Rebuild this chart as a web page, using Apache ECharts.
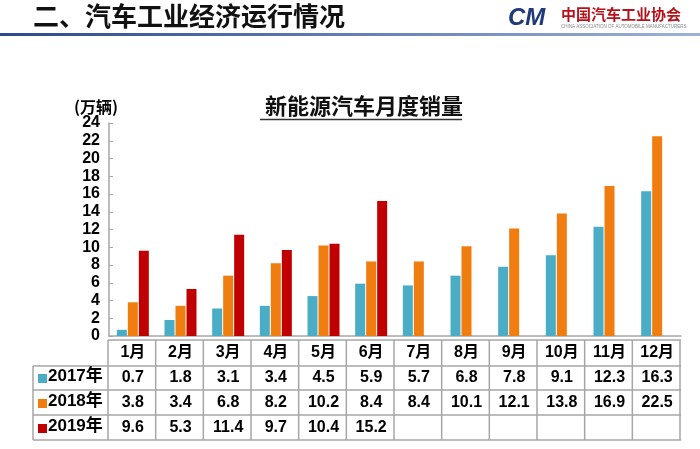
<!DOCTYPE html>
<html><head><meta charset="utf-8">
<script src="https://cdn.jsdelivr.net/npm/echarts@6/dist/echarts.min.js"></script>
<style>html,body{margin:0;padding:0;background:#fff}#c{width:700px;height:449px}</style>
</head><body><div id="c"></div>
<script>
const months = ['1月','2月','3月','4月','5月','6月','7月','8月','9月','10月','11月','12月'];
const s2017 = [0.7,1.8,3.1,3.4,4.5,5.9,5.7,6.8,7.8,9.1,12.3,16.3];
const s2018 = [3.8,3.4,6.8,8.2,10.2,8.4,8.4,10.1,12.1,13.8,16.9,22.5];
const s2019 = [9.6,5.3,11.4,9.7,10.4,15.2,null,null,null,null,null,null];
const seriesNames = ['2017年','2018年','2019年'];
const colors = ['#4BACC6','#F07D0F','#C00000'];

const G = {left:109, right:681, top:123, bottom:336};
const font = '"Liberation Sans", Arial, "Noto Sans CJK SC", sans-serif';
const chart = echarts.init(document.getElementById('c'));

const rowsData = [s2017, s2018, s2019];
const rowCenters = [353, 378, 403, 428];
const rowLines = [340, 366, 390, 415, 440];
const tableLeft = 33;

function fmtVal(v){ return v == null ? '' : v.toFixed(1); }

const xAxes = [{
  type:'category', data:months, gridIndex:0, position:'bottom',
  axisLine:{show:true, lineStyle:{color:'#A6A6A6', width:1.5}},
  axisTick:{show:false},
  axisLabel:{interval:0, margin:rowCenters[0]-G.bottom, verticalAlign:'middle', color:'#000', fontWeight:'bold', fontSize:16, fontFamily:font}
}];
rowsData.forEach((arr, k) => {
  xAxes.push({
    type:'category', data:months, gridIndex:0, position:'bottom',
    axisLine:{show:false}, axisTick:{show:false},
    axisLabel:{interval:0, margin:rowCenters[k+1]-G.bottom, verticalAlign:'middle', color:'#000', fontWeight:'bold', fontSize:16, fontFamily:font,
      formatter:(v, i) => fmtVal(arr[i])}
  });
});

const graphics = [];
// header
graphics.push({type:'text', left:33, top:3, style:{text:'二、汽车工业经济运行情况', fontSize:26, fontWeight:'bold', fill:'#111', fontFamily:'"Noto Sans CJK SC", sans-serif'}});
graphics.push({type:'rect', shape:{x:0, y:33, width:700, height:3}, style:{fill:new echarts.graphic.LinearGradient(0,0,1,0,[{offset:0,color:'#2B4A8C'},{offset:1,color:'#9DB2D6'}])}});
graphics.push({type:'text', left:508, top:6, style:{text:'CM', fontSize:24, fontWeight:'bold', fontStyle:'italic', fill:'#1F3A7A', fontFamily:font}});
graphics.push({type:'text', left:561, top:7, style:{text:'中国汽车工业协会', fontSize:15, fontWeight:'bold', fill:'#B5121B', fontFamily:'"Noto Sans CJK SC", sans-serif'}});
graphics.push({type:'text', left:561, top:25, style:{text:'CHINA ASSOCIATION OF AUTOMOBILE MANUFACTURERS', fontSize:4.5, fill:'#888', fontFamily:font}});
// unit + title underline
graphics.push({type:'text', left:74, top:99, style:{text:'(万辆)', fontSize:16, fontWeight:'bold', fill:'#000', fontFamily:'"Noto Sans CJK SC", sans-serif'}});
graphics.push({type:'line', shape:{x1:260, y1:119.5, x2:462, y2:119.5}, style:{stroke:'#333', lineWidth:1.5}});
// table borders
const cw = (G.right - G.left)/months.length;
const bStyle = {stroke:'#A6A6A6', lineWidth:1.5};
graphics.push({type:'line', shape:{x1:G.left-1, y1:rowLines[0], x2:G.right, y2:rowLines[0]}, style:bStyle});
for (let r=1; r<rowLines.length; r++) {
  graphics.push({type:'line', shape:{x1:tableLeft, y1:rowLines[r], x2:G.right, y2:rowLines[r]}, style:bStyle});
}
for (let c=0; c<=months.length; c++) {
  const x = G.left - 1 + c*cw;
  graphics.push({type:'line', shape:{x1:x, y1:rowLines[0], x2:x, y2:rowLines[4]}, style:bStyle});
}
graphics.push({type:'line', shape:{x1:tableLeft, y1:rowLines[1], x2:tableLeft, y2:rowLines[4]}, style:bStyle});
seriesNames.forEach((n, k) => {
  const cy = rowCenters[k+1];
  graphics.push({type:'rect', shape:{x:38, y:cy-4, width:9, height:9}, style:{fill:colors[k]}});
  graphics.push({type:'text', left:48, top:cy-10, style:{text:n, fontSize:17, fontWeight:'bold', fill:'#000', fontFamily:font}});
});

chart.setOption({
  animation:false,
  title:{text:'新能源汽车月度销量', left:260, top:90, textStyle:{fontSize:22, fontWeight:'bold', color:'#111', fontFamily:'"Noto Sans CJK SC", sans-serif'}},
  grid:{left:G.left, right:700-G.right, top:G.top, bottom:449-G.bottom, containLabel:false},
  xAxis:xAxes,
  yAxis:{type:'value', min:0, max:24, interval:2,
    axisLine:{show:true, lineStyle:{color:'#A6A6A6', width:1.5}},
    axisTick:{show:true, inside:true, length:4, lineStyle:{color:'#A6A6A6'}},
    splitLine:{show:false},
    axisLabel:{color:'#000', fontWeight:'bold', fontSize:16, fontFamily:font, margin:9}},
  series: rowsData.map((arr,k) => ({
    type:'bar', name:seriesNames[k], data:arr, xAxisIndex:0, barWidth:10, barGap:'10%',
    itemStyle:{color:colors[k]}
  })),
  graphic:graphics
});
</script></body></html>
